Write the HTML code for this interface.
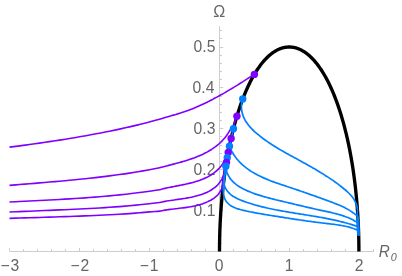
<!DOCTYPE html><html><head><meta charset="utf-8"><style>html,body{margin:0;padding:0;background:#fff}svg{display:block;will-change:transform}text{font-family:"Liberation Sans",sans-serif;fill:#666666}</style></head><body>
<svg width="402" height="276" viewBox="0 0 402 276">
<rect width="402" height="276" fill="#fff"/>
<path d="M9.50,251.50 H374.00 M219.50,252.00 V26.00 M9.50,251.00 v-3.20 M23.50,251.00 v-2.00 M37.50,251.00 v-2.00 M51.50,251.00 v-2.00 M65.50,251.00 v-2.00 M79.50,251.00 v-3.20 M93.50,251.00 v-2.00 M107.50,251.00 v-2.00 M121.50,251.00 v-2.00 M135.50,251.00 v-2.00 M149.50,251.00 v-3.20 M163.50,251.00 v-2.00 M177.50,251.00 v-2.00 M191.50,251.00 v-2.00 M205.50,251.00 v-2.00 M233.50,251.00 v-2.00 M247.50,251.00 v-2.00 M261.50,251.00 v-2.00 M275.50,251.00 v-2.00 M289.50,251.00 v-3.20 M303.50,251.00 v-2.00 M317.50,251.00 v-2.00 M331.50,251.00 v-2.00 M345.50,251.00 v-2.00 M359.50,251.00 v-3.20 M373.50,251.00 v-2.00 M220.00,243.50 h2.00 M220.00,235.50 h2.00 M220.00,226.50 h2.00 M220.00,218.50 h2.00 M220.00,210.50 h3.20 M220.00,202.50 h2.00 M220.00,194.50 h2.00 M220.00,186.50 h2.00 M220.00,177.50 h2.00 M220.00,169.50 h3.20 M220.00,161.50 h2.00 M220.00,153.50 h2.00 M220.00,145.50 h2.00 M220.00,136.50 h2.00 M220.00,128.50 h3.20 M220.00,120.50 h2.00 M220.00,112.50 h2.00 M220.00,104.50 h2.00 M220.00,96.50 h2.00 M220.00,87.50 h3.20 M220.00,79.50 h2.00 M220.00,71.50 h2.00 M220.00,63.50 h2.00 M220.00,55.50 h2.00 M220.00,47.50 h3.20 M220.00,38.50 h2.00 M220.00,30.50 h2.00" stroke="#cdcdcd" stroke-width="1" fill="none"/>
<text x="9.90" y="270.8" font-size="15.7" text-anchor="middle">−<tspan dx="0.8">3</tspan></text>
<text x="79.90" y="270.8" font-size="15.7" text-anchor="middle">−<tspan dx="0.8">2</tspan></text>
<text x="149.10" y="270.8" font-size="15.7" text-anchor="middle">−<tspan dx="0.8">1</tspan></text>
<text x="219.00" y="270.8" font-size="15.7" text-anchor="middle">0</text>
<text x="289.00" y="270.8" font-size="15.7" text-anchor="middle">1</text>
<text x="359.00" y="270.8" font-size="15.7" text-anchor="middle">2</text>
<text x="215.40" y="216.05" font-size="15.7" text-anchor="end">0.1</text>
<text x="215.40" y="175.15" font-size="15.7" text-anchor="end">0.2</text>
<text x="215.40" y="134.25" font-size="15.7" text-anchor="end">0.3</text>
<text x="214.40" y="93.35" font-size="15.7" text-anchor="end">0.4</text>
<text x="215.40" y="52.45" font-size="15.7" text-anchor="end">0.5</text>
<text transform="translate(219.3,16.75) scale(0.93,1)" x="0" y="0" font-size="17.3" text-anchor="middle">Ω</text>
<text transform="translate(378.8,256.8) scale(0.93,1)" font-size="16.4" font-style="italic">R<tspan font-size="11.6" dy="4" dx="1.0">0</tspan></text>
<path d="M219.50,251.50 L219.51,248.29 L219.53,245.08 L219.58,241.87 L219.64,238.66 L219.71,235.46 L219.81,232.25 L219.92,229.06 L220.05,225.87 L220.20,222.69 L220.36,219.51 L220.54,216.34 L220.73,213.18 L220.95,210.03 L221.18,206.89 L221.43,203.76 L221.69,200.64 L221.97,197.54 L222.27,194.45 L222.58,191.37 L222.91,188.31 L223.26,185.26 L223.62,182.23 L224.00,179.21 L224.39,176.22 L224.81,173.24 L225.23,170.28 L225.68,167.35 L226.13,164.43 L226.61,161.53 L227.10,158.66 L227.60,155.81 L228.12,152.98 L228.66,150.18 L229.21,147.40 L229.77,144.65 L230.35,141.92 L230.94,139.22 L231.55,136.55 L232.17,133.91 L232.81,131.30 L233.46,128.71 L234.13,126.16 L234.80,123.64 L235.50,121.15 L236.20,118.69 L236.92,116.26 L237.65,113.87 L238.39,111.51 L239.15,109.19 L239.91,106.90 L240.69,104.64 L241.49,102.43 L242.29,100.25 L243.11,98.10 L243.93,96.00 L244.77,93.93 L245.62,91.90 L246.48,89.91 L247.35,87.96 L248.23,86.06 L249.12,84.19 L250.02,82.36 L250.93,80.58 L251.85,78.83 L252.78,77.14 L253.72,75.48 L254.67,73.86 L255.62,72.30 L256.59,70.77 L257.56,69.29 L258.54,67.85 L259.52,66.46 L260.52,65.12 L261.52,63.82 L262.53,62.57 L263.54,61.36 L264.56,60.20 L265.59,59.09 L266.62,58.03 L267.66,57.01 L268.71,56.04 L269.75,55.12 L270.81,54.25 L271.87,53.42 L272.93,52.65 L274.00,51.93 L275.07,51.25 L276.14,50.62 L277.22,50.05 L278.30,49.52 L279.38,49.04 L280.46,48.61 L281.55,48.23 L282.64,47.91 L283.73,47.63 L284.82,47.40 L285.92,47.23 L287.01,47.10 L288.11,47.03 L289.20,47.00 L290.29,47.03 L291.39,47.10 L292.48,47.23 L293.58,47.40 L294.67,47.63 L295.76,47.91 L296.85,48.23 L297.94,48.61 L299.02,49.04 L300.10,49.52 L301.18,50.05 L302.26,50.62 L303.33,51.25 L304.40,51.93 L305.47,52.65 L306.53,53.42 L307.59,54.25 L308.65,55.12 L309.69,56.04 L310.74,57.01 L311.78,58.03 L312.81,59.09 L313.84,60.20 L314.86,61.36 L315.87,62.57 L316.88,63.82 L317.88,65.12 L318.88,66.46 L319.86,67.85 L320.84,69.29 L321.81,70.77 L322.78,72.30 L323.73,73.86 L324.68,75.48 L325.62,77.14 L326.55,78.83 L327.47,80.58 L328.38,82.36 L329.28,84.19 L330.17,86.06 L331.05,87.96 L331.92,89.91 L332.78,91.90 L333.63,93.93 L334.47,96.00 L335.29,98.10 L336.11,100.25 L336.91,102.43 L337.71,104.64 L338.49,106.90 L339.25,109.19 L340.01,111.51 L340.75,113.87 L341.48,116.26 L342.20,118.69 L342.90,121.15 L343.60,123.64 L344.27,126.16 L344.94,128.71 L345.59,131.30 L346.23,133.91 L346.85,136.55 L347.46,139.22 L348.05,141.92 L348.63,144.65 L349.19,147.40 L349.74,150.18 L350.28,152.98 L350.80,155.81 L351.30,158.66 L351.79,161.53 L352.27,164.43 L352.72,167.35 L353.17,170.28 L353.59,173.24 L354.01,176.22 L354.40,179.21 L354.78,182.23 L355.14,185.26 L355.49,188.31 L355.82,191.37 L356.13,194.45 L356.43,197.54 L356.71,200.64 L356.97,203.76 L357.22,206.89 L357.45,210.03 L357.67,213.18 L357.86,216.34 L358.04,219.51 L358.20,222.69 L358.35,225.87 L358.48,229.06 L358.59,232.25 L358.69,235.46 L358.76,238.66 L358.82,241.87 L358.87,245.08 L358.89,248.29 L358.90,251.50" stroke="#000" stroke-width="3.35" fill="none" stroke-linejoin="round"/>
<path d="M9.50,147.16 C11.17,146.94 16.17,146.31 19.50,145.87 C22.83,145.43 26.17,144.98 29.50,144.52 C32.83,144.06 36.17,143.59 39.50,143.12 C42.83,142.64 46.17,142.15 49.50,141.65 C52.83,141.15 56.17,140.64 59.50,140.12 C62.83,139.59 66.17,139.06 69.50,138.51 C72.83,137.96 76.17,137.40 79.50,136.82 C82.83,136.24 86.17,135.65 89.50,135.04 C92.83,134.44 96.17,133.81 99.50,133.17 C102.83,132.53 106.17,131.87 109.50,131.19 C112.83,130.51 116.17,129.82 119.50,129.10 C122.83,128.37 126.17,127.63 129.50,126.87 C132.83,126.10 136.17,125.31 139.50,124.49 C142.83,123.68 146.17,122.83 149.50,121.96 C152.83,121.08 156.18,120.20 159.50,119.24 C162.82,118.27 167.37,116.78 169.42,116.17 C171.47,115.56 171.02,115.78 171.81,115.57 C172.61,115.37 173.40,115.15 174.19,114.94 C174.98,114.72 175.76,114.50 176.55,114.27 C177.33,114.04 178.12,113.80 178.90,113.56 C179.67,113.32 180.45,113.07 181.23,112.82 C182.00,112.57 182.77,112.31 183.54,112.05 C184.31,111.79 185.08,111.52 185.85,111.25 C186.61,110.97 187.38,110.69 188.14,110.41 C188.90,110.13 189.66,109.84 190.41,109.54 C191.17,109.25 191.93,108.95 192.68,108.65 C193.43,108.35 194.18,108.04 194.93,107.73 C195.68,107.41 196.42,107.10 197.17,106.78 C197.91,106.45 198.65,106.13 199.39,105.80 C200.13,105.47 200.87,105.13 201.61,104.80 C202.35,104.46 203.08,104.12 203.81,103.77 C204.55,103.42 205.28,103.07 206.01,102.72 C206.74,102.37 207.46,102.01 208.19,101.65 C208.92,101.29 209.64,100.92 210.36,100.55 C211.09,100.18 211.81,99.81 212.53,99.44 C213.25,99.06 213.96,98.69 214.68,98.30 C215.40,97.92 216.11,97.54 216.82,97.15 C217.54,96.76 218.25,96.37 218.96,95.98 C219.67,95.59 220.38,95.19 221.09,94.79 C221.80,94.40 222.50,93.99 223.21,93.59 C223.91,93.19 224.62,92.78 225.32,92.37 C226.02,91.96 226.73,91.55 227.43,91.14 C228.13,90.73 228.83,90.31 229.52,89.90 C230.22,89.48 230.92,89.06 231.62,88.64 C232.31,88.22 233.01,87.80 233.70,87.37 C234.40,86.95 235.09,86.52 235.78,86.10 C236.47,85.67 237.16,85.24 237.85,84.81 C238.55,84.38 239.23,83.95 239.92,83.52 C240.61,83.08 241.30,82.65 241.99,82.22 C242.68,81.78 243.36,81.34 244.05,80.91 C244.73,80.47 245.42,80.03 246.10,79.60 C246.79,79.16 247.47,78.72 248.16,78.28 C248.84,77.84 249.52,77.40 250.20,76.96 C250.89,76.52 251.57,76.08 252.25,75.64 C252.93,75.20 253.95,74.53 254.29,74.31" stroke="#8000ff" stroke-width="1.6" fill="none" stroke-linecap="butt"/>
<path d="M9.50,185.35 C11.17,185.22 16.17,184.82 19.50,184.55 C22.83,184.29 26.17,184.02 29.50,183.75 C32.83,183.47 36.17,183.20 39.50,182.92 C42.83,182.64 46.17,182.36 49.50,182.07 C52.83,181.78 56.17,181.48 59.50,181.18 C62.83,180.88 66.17,180.57 69.50,180.25 C72.83,179.94 76.17,179.61 79.50,179.27 C82.83,178.94 86.17,178.59 89.50,178.23 C92.83,177.87 96.17,177.50 99.50,177.11 C102.83,176.72 106.17,176.32 109.50,175.89 C112.83,175.47 116.17,175.03 119.50,174.57 C122.83,174.11 126.17,173.63 129.50,173.11 C132.83,172.60 136.17,172.07 139.50,171.50 C142.83,170.92 146.14,170.32 149.50,169.68 C152.86,169.05 157.63,168.12 159.65,167.70 C161.66,167.29 160.94,167.36 161.59,167.19 C162.24,167.02 162.90,166.85 163.56,166.68 C164.22,166.51 164.88,166.34 165.54,166.17 C166.21,166.00 166.88,165.83 167.55,165.66 C168.22,165.49 168.89,165.32 169.56,165.14 C170.24,164.97 170.91,164.80 171.59,164.62 C172.27,164.45 172.95,164.27 173.63,164.10 C174.31,163.92 174.99,163.74 175.68,163.56 C176.36,163.38 177.04,163.19 177.73,163.01 C178.41,162.82 179.10,162.63 179.78,162.44 C180.46,162.25 181.15,162.06 181.83,161.86 C182.52,161.66 183.20,161.46 183.89,161.26 C184.57,161.06 185.25,160.85 185.93,160.64 C186.61,160.43 187.30,160.22 187.97,160.00 C188.65,159.78 189.33,159.56 190.01,159.33 C190.68,159.10 191.35,158.87 192.03,158.63 C192.70,158.40 193.37,158.16 194.03,157.91 C194.70,157.66 195.36,157.41 196.02,157.15 C196.68,156.90 197.34,156.63 197.99,156.36 C198.65,156.09 199.30,155.82 199.95,155.54 C200.59,155.26 201.23,154.97 201.87,154.68 C202.51,154.38 203.15,154.08 203.77,153.77 C204.40,153.47 205.03,153.15 205.65,152.83 C206.27,152.51 206.88,152.18 207.49,151.84 C208.10,151.50 208.71,151.16 209.30,150.80 C209.90,150.45 210.49,150.09 211.08,149.72 C211.67,149.35 212.25,148.97 212.82,148.59 C213.39,148.20 213.96,147.80 214.52,147.40 C215.08,147.00 215.63,146.58 216.18,146.16 C216.72,145.73 217.26,145.30 217.79,144.86 C218.32,144.42 218.84,143.96 219.35,143.50 C219.87,143.04 220.37,142.57 220.87,142.08 C221.37,141.60 221.86,141.10 222.34,140.60 C222.82,140.09 223.29,139.58 223.75,139.05 C224.21,138.52 224.66,137.99 225.10,137.44 C225.55,136.89 225.98,136.32 226.40,135.75 C226.82,135.18 227.23,134.59 227.64,133.99 C228.04,133.40 228.43,132.78 228.81,132.16 C229.19,131.54 229.22,131.11 229.92,130.25 C230.61,129.39 232.28,128.14 233.01,127.00 C233.73,125.86 233.84,124.61 234.27,123.41 C234.69,122.22 235.13,121.02 235.57,119.82 C236.01,118.63 236.70,116.83 236.93,116.24" stroke="#8000ff" stroke-width="1.6" fill="none" stroke-linecap="butt"/>
<path d="M9.50,202.03 C11.17,201.95 16.17,201.71 19.50,201.55 C22.83,201.39 26.17,201.23 29.50,201.06 C32.83,200.90 36.17,200.73 39.50,200.55 C42.83,200.38 46.17,200.21 49.50,200.02 C52.83,199.84 56.17,199.66 59.50,199.46 C62.83,199.27 66.17,199.07 69.50,198.86 C72.83,198.66 76.17,198.44 79.50,198.21 C82.83,197.99 86.17,197.76 89.50,197.51 C92.83,197.26 96.17,197.00 99.50,196.73 C102.83,196.46 106.17,196.17 109.50,195.87 C112.83,195.56 116.17,195.24 119.50,194.90 C122.83,194.56 126.17,194.20 129.50,193.81 C132.83,193.42 136.17,193.00 139.50,192.57 C142.83,192.15 146.14,191.72 149.50,191.25 C152.86,190.77 157.69,190.06 159.67,189.73 C161.65,189.40 160.80,189.41 161.38,189.26 C161.95,189.11 162.53,188.96 163.12,188.82 C163.70,188.67 164.29,188.53 164.89,188.39 C165.48,188.25 166.08,188.12 166.68,187.98 C167.28,187.85 167.88,187.72 168.49,187.59 C169.10,187.46 169.71,187.33 170.32,187.21 C170.94,187.08 171.55,186.96 172.17,186.84 C172.79,186.71 173.41,186.59 174.03,186.47 C174.66,186.35 175.28,186.22 175.91,186.10 C176.53,185.98 177.16,185.86 177.79,185.74 C178.42,185.61 179.05,185.49 179.68,185.37 C180.31,185.24 180.94,185.12 181.57,184.99 C182.20,184.86 182.83,184.74 183.47,184.60 C184.10,184.47 184.73,184.34 185.36,184.20 C185.99,184.07 186.62,183.93 187.24,183.79 C187.87,183.65 188.50,183.50 189.13,183.35 C189.75,183.20 190.38,183.05 191.00,182.89 C191.62,182.74 192.24,182.58 192.86,182.41 C193.47,182.24 194.09,182.07 194.70,181.90 C195.31,181.72 195.92,181.54 196.53,181.35 C197.13,181.16 197.74,180.97 198.34,180.77 C198.94,180.57 199.53,180.37 200.12,180.15 C200.71,179.94 201.30,179.72 201.88,179.49 C202.46,179.27 203.04,179.03 203.62,178.79 C204.19,178.55 204.76,178.30 205.32,178.04 C205.88,177.78 206.44,177.51 206.99,177.24 C207.54,176.96 208.08,176.68 208.62,176.38 C209.16,176.09 209.69,175.78 210.22,175.47 C210.74,175.16 211.26,174.83 211.77,174.50 C212.29,174.16 212.79,173.82 213.29,173.46 C213.78,173.11 214.27,172.74 214.75,172.36 C215.23,171.98 215.71,171.59 216.17,171.19 C216.64,170.79 217.09,170.38 217.54,169.95 C217.99,169.52 218.42,169.08 218.85,168.63 C219.28,168.18 219.70,167.71 220.11,167.23 C220.52,166.75 220.92,166.26 221.31,165.75 C221.70,165.25 222.08,164.73 222.45,164.19 C222.82,163.66 223.17,163.11 223.52,162.54 C223.87,161.97 224.00,161.89 224.53,160.80 C225.05,159.71 226.08,157.77 226.67,156.00 C227.26,154.23 227.58,152.10 228.06,150.15 C228.54,148.20 229.03,146.25 229.54,144.31 C230.05,142.36 230.85,139.43 231.12,138.46" stroke="#8000ff" stroke-width="1.6" fill="none" stroke-linecap="butt"/>
<path d="M9.50,212.03 C11.17,211.96 16.17,211.74 19.50,211.60 C22.83,211.45 26.17,211.31 29.50,211.18 C32.83,211.04 36.17,210.90 39.50,210.76 C42.83,210.62 46.17,210.48 49.50,210.34 C52.83,210.20 56.17,210.06 59.50,209.92 C62.83,209.77 66.17,209.63 69.50,209.48 C72.83,209.32 76.17,209.17 79.50,209.00 C82.83,208.84 86.17,208.67 89.50,208.50 C92.83,208.32 96.17,208.13 99.50,207.93 C102.83,207.73 106.17,207.53 109.50,207.30 C112.83,207.08 116.17,206.84 119.50,206.59 C122.83,206.33 126.17,206.06 129.50,205.77 C132.83,205.47 136.17,205.16 139.50,204.81 C142.83,204.46 146.14,204.06 149.50,203.68 C152.86,203.30 157.69,202.79 159.67,202.53 C161.66,202.27 160.82,202.25 161.40,202.13 C161.98,202.00 162.56,201.87 163.16,201.75 C163.75,201.63 164.34,201.52 164.94,201.41 C165.54,201.30 166.14,201.19 166.75,201.08 C167.36,200.98 167.97,200.88 168.59,200.78 C169.20,200.68 169.82,200.58 170.44,200.49 C171.06,200.39 171.69,200.30 172.31,200.21 C172.94,200.11 173.57,200.02 174.20,199.93 C174.83,199.84 175.47,199.75 176.10,199.66 C176.74,199.57 177.37,199.48 178.01,199.39 C178.65,199.30 179.29,199.21 179.93,199.12 C180.57,199.03 181.21,198.93 181.85,198.84 C182.49,198.74 183.13,198.64 183.77,198.54 C184.41,198.44 185.05,198.34 185.69,198.23 C186.33,198.13 186.97,198.02 187.60,197.90 C188.24,197.79 188.88,197.68 189.51,197.55 C190.15,197.43 190.78,197.31 191.41,197.18 C192.04,197.05 192.67,196.91 193.30,196.77 C193.92,196.63 194.55,196.48 195.17,196.33 C195.79,196.17 196.41,196.01 197.02,195.85 C197.64,195.68 198.25,195.51 198.85,195.33 C199.46,195.15 200.07,194.96 200.66,194.76 C201.26,194.57 201.86,194.36 202.45,194.15 C203.04,193.93 203.62,193.71 204.20,193.48 C204.78,193.25 205.35,193.01 205.92,192.76 C206.49,192.51 207.05,192.25 207.61,191.98 C208.17,191.70 208.72,191.42 209.26,191.13 C209.80,190.84 210.34,190.53 210.87,190.21 C211.40,189.90 211.92,189.57 212.43,189.23 C212.95,188.89 213.45,188.53 213.94,188.17 C214.44,187.80 214.92,187.42 215.39,187.03 C215.86,186.63 216.32,186.22 216.76,185.80 C217.21,185.38 217.64,184.94 218.06,184.48 C218.48,184.03 218.88,183.56 219.27,183.07 C219.65,182.59 220.02,182.09 220.38,181.57 C220.73,181.05 221.06,180.51 221.38,179.96 C221.70,179.40 221.99,178.83 222.27,178.24 C222.55,177.65 222.81,177.04 223.04,176.41 C223.27,175.78 223.46,175.53 223.68,174.47 C223.90,173.40 224.06,171.72 224.37,170.00 C224.69,168.28 225.16,166.11 225.58,164.17 C225.99,162.22 226.41,160.28 226.85,158.33 C227.29,156.39 227.99,153.47 228.21,152.50" stroke="#8000ff" stroke-width="1.6" fill="none" stroke-linecap="butt"/>
<path d="M9.50,218.33 C11.17,218.28 16.17,218.13 19.50,218.03 C22.83,217.93 26.17,217.83 29.50,217.73 C32.83,217.64 36.17,217.54 39.50,217.44 C42.83,217.34 46.17,217.24 49.50,217.14 C52.83,217.04 56.17,216.93 59.50,216.82 C62.83,216.72 66.17,216.61 69.50,216.49 C72.83,216.37 76.17,216.25 79.50,216.12 C82.83,215.99 86.17,215.86 89.50,215.71 C92.83,215.57 96.17,215.40 99.50,215.25 C102.83,215.09 106.17,214.95 109.50,214.78 C112.83,214.61 116.17,214.43 119.50,214.23 C122.83,214.03 126.17,213.82 129.50,213.58 C132.83,213.35 136.17,213.09 139.50,212.81 C142.83,212.52 146.14,212.16 149.50,211.88 C152.86,211.59 157.66,211.30 159.64,211.11 C161.61,210.93 160.76,210.88 161.33,210.77 C161.90,210.66 162.48,210.55 163.06,210.45 C163.64,210.35 164.22,210.25 164.80,210.16 C165.39,210.06 165.98,209.97 166.57,209.89 C167.17,209.80 167.76,209.72 168.36,209.63 C168.96,209.55 169.56,209.47 170.17,209.40 C170.77,209.32 171.38,209.24 171.98,209.17 C172.59,209.10 173.20,209.02 173.82,208.95 C174.43,208.88 175.04,208.81 175.66,208.74 C176.27,208.66 176.89,208.59 177.51,208.52 C178.12,208.45 178.74,208.38 179.36,208.30 C179.98,208.23 180.60,208.16 181.22,208.08 C181.84,208.01 182.46,207.93 183.08,207.85 C183.70,207.77 184.32,207.69 184.94,207.60 C185.56,207.52 186.17,207.43 186.79,207.34 C187.41,207.25 188.03,207.16 188.64,207.06 C189.26,206.96 189.87,206.86 190.48,206.75 C191.10,206.65 191.71,206.53 192.32,206.42 C192.92,206.30 193.53,206.18 194.13,206.05 C194.74,205.93 195.34,205.80 195.94,205.66 C196.54,205.52 197.13,205.37 197.73,205.22 C198.32,205.07 198.91,204.91 199.50,204.74 C200.08,204.58 200.67,204.41 201.24,204.22 C201.82,204.04 202.40,203.85 202.97,203.65 C203.54,203.46 204.11,203.25 204.67,203.03 C205.23,202.82 205.79,202.59 206.34,202.36 C206.89,202.12 207.44,201.88 207.98,201.63 C208.52,201.37 209.06,201.11 209.59,200.83 C210.12,200.55 210.64,200.27 211.16,199.97 C211.68,199.67 212.19,199.36 212.69,199.04 C213.19,198.71 213.68,198.38 214.16,198.02 C214.64,197.67 215.11,197.31 215.56,196.93 C216.02,196.55 216.46,196.15 216.89,195.74 C217.32,195.32 217.73,194.89 218.13,194.45 C218.52,194.00 218.90,193.53 219.26,193.05 C219.62,192.56 219.96,192.06 220.28,191.54 C220.60,191.01 220.90,190.47 221.17,189.90 C221.45,189.34 221.70,188.75 221.93,188.14 C222.16,187.53 222.40,187.35 222.54,186.25 C222.69,185.14 222.58,183.35 222.81,181.50 C223.04,179.65 223.55,177.25 223.94,175.12 C224.34,172.99 224.74,170.87 225.16,168.74 C225.58,166.61 226.25,163.42 226.47,162.36" stroke="#8000ff" stroke-width="1.6" fill="none" stroke-linecap="butt"/>
<path d="M242.73,99.07 C242.54,99.87 241.81,102.53 241.60,103.85 C241.39,105.16 241.46,105.96 241.47,106.97 C241.48,107.99 241.55,108.97 241.67,109.93 C241.78,110.89 241.95,111.82 242.16,112.73 C242.37,113.65 242.63,114.53 242.93,115.39 C243.22,116.26 243.56,117.10 243.94,117.92 C244.31,118.74 244.72,119.54 245.17,120.32 C245.61,121.10 246.09,121.86 246.60,122.60 C247.10,123.34 247.64,124.07 248.19,124.78 C248.75,125.49 249.34,126.18 249.94,126.86 C250.54,127.54 251.16,128.21 251.80,128.86 C252.44,129.52 253.10,130.16 253.76,130.79 C254.43,131.42 255.11,132.04 255.79,132.65 C256.48,133.26 257.17,133.86 257.88,134.46 C258.58,135.05 259.29,135.63 260.01,136.21 C260.73,136.78 261.46,137.35 262.19,137.91 C262.93,138.47 263.67,139.02 264.42,139.56 C265.17,140.11 265.92,140.64 266.68,141.17 C267.44,141.70 268.21,142.23 268.98,142.74 C269.76,143.26 270.53,143.77 271.32,144.28 C272.10,144.78 272.89,145.28 273.68,145.78 C274.47,146.28 275.27,146.77 276.07,147.25 C276.87,147.74 277.67,148.22 278.48,148.70 C279.29,149.17 280.10,149.65 280.91,150.12 C281.73,150.59 282.54,151.05 283.36,151.52 C284.18,151.98 285.00,152.44 285.82,152.90 C286.64,153.36 287.46,153.82 288.29,154.27 C289.11,154.73 289.94,155.18 290.76,155.64 C291.59,156.09 292.41,156.54 293.24,156.99 C294.06,157.44 294.89,157.89 295.71,158.34 C296.54,158.79 297.36,159.24 298.19,159.70 C299.01,160.15 299.83,160.60 300.65,161.05 C301.47,161.50 302.29,161.95 303.11,162.41 C303.93,162.86 304.75,163.31 305.57,163.77 C306.38,164.22 307.20,164.68 308.01,165.14 C308.83,165.60 309.64,166.06 310.45,166.52 C311.26,166.98 312.07,167.44 312.87,167.91 C313.68,168.38 314.49,168.84 315.29,169.32 C316.09,169.79 316.89,170.26 317.69,170.74 C318.49,171.21 319.29,171.69 320.08,172.18 C320.87,172.66 321.66,173.14 322.45,173.63 C323.24,174.12 324.03,174.62 324.81,175.11 C325.59,175.61 326.38,176.11 327.15,176.62 C327.93,177.12 328.71,177.63 329.48,178.15 C330.25,178.66 331.02,179.18 331.78,179.70 C332.55,180.23 333.31,180.75 334.07,181.29 C334.82,181.82 335.58,182.36 336.33,182.91 C337.08,183.45 337.83,184.00 338.57,184.56 C339.32,185.11 340.06,185.67 340.79,186.24 C341.53,186.81 342.26,187.38 342.98,187.97 C343.71,188.55 344.43,189.14 345.14,189.74 C345.84,190.34 346.54,190.95 347.22,191.57 C347.89,192.20 348.56,192.83 349.20,193.49 C349.83,194.14 350.45,194.81 351.04,195.50 C351.63,196.18 352.19,196.89 352.72,197.62 C353.25,198.34 353.75,199.09 354.21,199.86 C354.66,200.64 355.09,201.43 355.47,202.25 C355.84,203.08 356.18,203.92 356.47,204.80 C356.75,205.68 357.00,206.59 357.18,207.53 C357.37,208.47 357.55,209.37 357.58,210.45 C357.61,211.53 357.32,212.20 357.37,214.00 C357.42,215.80 357.71,218.82 357.87,221.23 C358.02,223.64 358.15,226.06 358.27,228.47 C358.39,230.88 358.54,234.49 358.59,235.70" stroke="#0080ff" stroke-width="1.7" fill="none"/>
<path d="M233.44,128.80 C233.31,129.37 232.90,131.09 232.65,132.24 C232.40,133.39 232.18,134.53 231.96,135.68 C231.74,136.83 231.53,137.97 231.34,139.12 C231.14,140.27 230.96,141.41 230.79,142.56 C230.61,143.71 230.21,144.72 230.29,146.00 C230.37,147.28 230.88,149.16 231.25,150.24 C231.61,151.33 232.06,151.77 232.49,152.51 C232.92,153.24 233.36,153.96 233.82,154.66 C234.28,155.36 234.75,156.05 235.24,156.72 C235.72,157.39 236.22,158.04 236.73,158.68 C237.25,159.32 237.77,159.94 238.31,160.55 C238.84,161.15 239.39,161.75 239.95,162.33 C240.51,162.90 241.09,163.47 241.67,164.02 C242.25,164.57 242.85,165.11 243.45,165.63 C244.06,166.16 244.67,166.67 245.30,167.17 C245.92,167.67 246.56,168.16 247.20,168.63 C247.85,169.11 248.50,169.57 249.17,170.02 C249.83,170.48 250.50,170.92 251.18,171.35 C251.86,171.78 252.55,172.20 253.24,172.62 C253.94,173.03 254.64,173.43 255.35,173.82 C256.06,174.22 256.78,174.60 257.50,174.97 C258.23,175.35 258.96,175.72 259.69,176.08 C260.43,176.44 261.17,176.79 261.92,177.13 C262.66,177.47 263.42,177.81 264.17,178.14 C264.93,178.47 265.69,178.80 266.46,179.11 C267.23,179.43 268.00,179.74 268.77,180.05 C269.54,180.36 270.32,180.66 271.10,180.96 C271.88,181.25 272.66,181.54 273.45,181.83 C274.23,182.12 275.02,182.40 275.81,182.69 C276.60,182.97 277.39,183.24 278.19,183.52 C278.98,183.79 279.77,184.06 280.57,184.33 C281.36,184.60 282.16,184.87 282.95,185.14 C283.75,185.40 284.55,185.67 285.34,185.93 C286.13,186.20 286.93,186.46 287.72,186.72 C288.52,186.98 289.31,187.25 290.10,187.51 C290.89,187.77 291.68,188.04 292.47,188.30 C293.25,188.56 294.04,188.83 294.83,189.09 C295.61,189.36 296.39,189.62 297.18,189.89 C297.96,190.15 298.74,190.42 299.52,190.69 C300.30,190.95 301.08,191.22 301.86,191.49 C302.64,191.75 303.41,192.02 304.19,192.29 C304.97,192.56 305.74,192.83 306.52,193.10 C307.29,193.37 308.07,193.64 308.84,193.91 C309.61,194.18 310.39,194.45 311.16,194.73 C311.93,195.00 312.71,195.27 313.48,195.55 C314.25,195.82 315.02,196.10 315.80,196.37 C316.57,196.65 317.34,196.93 318.11,197.20 C318.88,197.48 319.66,197.76 320.43,198.04 C321.20,198.32 321.97,198.60 322.75,198.88 C323.52,199.16 324.29,199.44 325.06,199.73 C325.84,200.01 326.61,200.29 327.39,200.58 C328.16,200.86 328.94,201.15 329.71,201.44 C330.49,201.73 331.26,202.02 332.04,202.31 C332.81,202.60 333.58,202.90 334.35,203.20 C335.12,203.50 335.89,203.81 336.66,204.12 C337.42,204.43 338.19,204.75 338.94,205.07 C339.70,205.40 340.46,205.73 341.21,206.07 C341.96,206.41 342.70,206.75 343.44,207.11 C344.18,207.47 344.91,207.83 345.64,208.21 C346.36,208.59 347.08,208.98 347.80,209.38 C348.51,209.78 349.21,210.19 349.91,210.61 C350.60,211.04 351.29,211.47 351.96,211.93 C352.64,212.38 353.31,212.84 353.97,213.33 C354.62,213.81 355.27,214.31 355.90,214.82 C356.54,215.34 357.39,215.39 357.77,216.42 C358.15,217.45 358.13,220.24 358.20,221.00" stroke="#0080ff" stroke-width="1.7" fill="none"/>
<path d="M229.46,146.17 C229.35,146.72 229.01,148.37 228.80,149.47 C228.58,150.57 228.38,151.68 228.18,152.78 C227.99,153.88 227.80,154.98 227.63,156.08 C227.45,157.19 227.29,158.29 227.15,159.39 C227.00,160.49 226.87,161.59 226.76,162.69 C226.65,163.80 226.49,164.53 226.48,166.00 C226.48,167.47 226.53,170.18 226.72,171.50 C226.91,172.82 227.28,173.13 227.61,173.90 C227.95,174.67 228.31,175.41 228.71,176.12 C229.11,176.83 229.54,177.51 229.99,178.17 C230.45,178.83 230.94,179.46 231.45,180.07 C231.96,180.68 232.50,181.26 233.07,181.83 C233.63,182.39 234.22,182.92 234.82,183.44 C235.43,183.96 236.06,184.46 236.70,184.93 C237.35,185.41 238.01,185.87 238.69,186.31 C239.37,186.75 240.07,187.18 240.78,187.58 C241.48,187.99 242.21,188.38 242.94,188.76 C243.67,189.14 244.42,189.50 245.16,189.85 C245.91,190.21 246.67,190.54 247.44,190.87 C248.20,191.20 248.97,191.52 249.74,191.83 C250.51,192.14 251.28,192.44 252.06,192.73 C252.83,193.02 253.61,193.31 254.38,193.58 C255.16,193.86 255.94,194.13 256.72,194.39 C257.49,194.65 258.28,194.91 259.06,195.16 C259.84,195.41 260.62,195.65 261.40,195.89 C262.19,196.13 262.97,196.36 263.76,196.59 C264.54,196.82 265.33,197.04 266.11,197.26 C266.90,197.48 267.69,197.69 268.48,197.90 C269.26,198.11 270.05,198.32 270.84,198.52 C271.63,198.73 272.42,198.93 273.21,199.13 C274.00,199.32 274.79,199.52 275.58,199.71 C276.37,199.91 277.17,200.10 277.96,200.29 C278.75,200.48 279.54,200.67 280.33,200.85 C281.13,201.04 281.92,201.23 282.71,201.42 C283.50,201.60 284.30,201.79 285.09,201.98 C285.88,202.16 286.67,202.35 287.47,202.54 C288.26,202.73 289.05,202.91 289.84,203.10 C290.64,203.29 291.43,203.48 292.22,203.67 C293.01,203.86 293.81,204.05 294.60,204.23 C295.39,204.42 296.19,204.61 296.98,204.80 C297.78,204.99 298.57,205.18 299.37,205.37 C300.16,205.55 300.96,205.74 301.75,205.93 C302.55,206.12 303.34,206.31 304.14,206.49 C304.94,206.68 305.74,206.87 306.53,207.05 C307.33,207.24 308.13,207.42 308.93,207.61 C309.73,207.79 310.53,207.98 311.33,208.16 C312.13,208.35 312.94,208.53 313.74,208.71 C314.54,208.89 315.35,209.08 316.15,209.26 C316.96,209.44 317.76,209.62 318.57,209.79 C319.38,209.97 320.19,210.15 321.00,210.33 C321.80,210.50 322.62,210.68 323.43,210.85 C324.24,211.03 325.05,211.20 325.86,211.38 C326.68,211.55 327.49,211.73 328.30,211.91 C329.11,212.08 329.92,212.26 330.73,212.45 C331.54,212.63 332.35,212.82 333.16,213.01 C333.96,213.21 334.77,213.40 335.57,213.61 C336.37,213.81 337.17,214.02 337.96,214.24 C338.75,214.46 339.54,214.69 340.33,214.92 C341.12,215.16 341.90,215.40 342.68,215.65 C343.45,215.91 344.22,216.17 344.99,216.45 C345.75,216.72 346.51,217.01 347.27,217.31 C348.02,217.61 348.77,217.92 349.50,218.25 C350.24,218.58 350.98,218.92 351.70,219.28 C352.42,219.64 353.14,220.01 353.84,220.40 C354.55,220.79 355.25,221.19 355.94,221.62 C356.62,222.05 357.58,222.22 357.97,222.95 C358.36,223.68 358.25,225.49 358.30,226.00" stroke="#0080ff" stroke-width="1.7" fill="none"/>
<path d="M227.24,157.81 C227.14,158.43 226.82,160.28 226.61,161.51 C226.41,162.74 226.21,163.98 226.03,165.21 C225.85,166.44 225.67,167.67 225.51,168.91 C225.35,170.14 225.20,171.37 225.07,172.60 C224.94,173.84 224.83,175.07 224.73,176.30 C224.63,177.53 224.62,178.72 224.50,180.00 C224.38,181.28 223.95,182.91 224.00,183.99 C224.05,185.08 224.49,185.72 224.80,186.52 C225.11,187.32 225.47,188.08 225.86,188.80 C226.26,189.52 226.70,190.19 227.17,190.84 C227.65,191.48 228.16,192.09 228.70,192.66 C229.24,193.24 229.82,193.78 230.42,194.30 C231.02,194.81 231.65,195.30 232.30,195.76 C232.96,196.22 233.64,196.65 234.33,197.06 C235.03,197.48 235.75,197.86 236.48,198.24 C237.21,198.61 237.96,198.96 238.72,199.30 C239.47,199.63 240.24,199.95 241.02,200.26 C241.79,200.57 242.58,200.86 243.37,201.15 C244.15,201.44 244.94,201.72 245.73,201.99 C246.52,202.26 247.30,202.53 248.09,202.79 C248.88,203.05 249.67,203.30 250.46,203.55 C251.24,203.80 252.03,204.04 252.82,204.28 C253.61,204.51 254.39,204.74 255.18,204.97 C255.97,205.19 256.76,205.41 257.55,205.63 C258.34,205.84 259.12,206.05 259.91,206.26 C260.70,206.46 261.49,206.66 262.28,206.86 C263.07,207.05 263.86,207.24 264.65,207.43 C265.44,207.62 266.23,207.80 267.02,207.98 C267.81,208.16 268.60,208.34 269.40,208.51 C270.19,208.68 270.98,208.85 271.77,209.01 C272.57,209.18 273.36,209.34 274.15,209.50 C274.95,209.66 275.74,209.81 276.54,209.97 C277.33,210.12 278.13,210.27 278.93,210.42 C279.72,210.57 280.52,210.71 281.32,210.86 C282.12,211.00 282.92,211.14 283.72,211.28 C284.52,211.42 285.32,211.56 286.12,211.70 C286.92,211.84 287.73,211.97 288.53,212.11 C289.33,212.24 290.14,212.37 290.94,212.51 C291.75,212.64 292.55,212.77 293.36,212.90 C294.17,213.03 294.97,213.16 295.78,213.29 C296.59,213.42 297.39,213.55 298.20,213.68 C299.01,213.80 299.82,213.93 300.63,214.06 C301.44,214.19 302.24,214.32 303.05,214.45 C303.86,214.57 304.67,214.70 305.48,214.83 C306.29,214.96 307.10,215.09 307.91,215.22 C308.72,215.35 309.53,215.48 310.34,215.62 C311.15,215.75 311.95,215.88 312.76,216.02 C313.57,216.15 314.38,216.29 315.19,216.42 C316.00,216.56 316.81,216.70 317.61,216.84 C318.42,216.98 319.23,217.12 320.03,217.26 C320.84,217.41 321.65,217.55 322.45,217.70 C323.26,217.85 324.06,218.00 324.87,218.15 C325.67,218.31 326.48,218.46 327.28,218.62 C328.08,218.78 328.88,218.94 329.69,219.10 C330.49,219.26 331.29,219.43 332.09,219.60 C332.89,219.77 333.69,219.94 334.48,220.12 C335.28,220.29 336.08,220.47 336.87,220.66 C337.67,220.84 338.46,221.02 339.26,221.22 C340.05,221.41 340.84,221.60 341.63,221.80 C342.42,222.00 343.21,222.20 344.00,222.41 C344.79,222.62 345.57,222.83 346.36,223.04 C347.14,223.26 347.92,223.48 348.71,223.71 C349.49,223.93 350.27,224.16 351.05,224.40 C351.82,224.63 352.60,224.88 353.38,225.12 C354.15,225.37 354.92,225.62 355.69,225.88 C356.47,226.13 357.55,226.15 358.00,226.67 C358.45,227.19 358.33,228.61 358.40,229.00" stroke="#0080ff" stroke-width="1.7" fill="none"/>
<path d="M225.84,166.31 C225.74,166.96 225.43,168.94 225.24,170.25 C225.05,171.57 224.86,172.89 224.69,174.20 C224.52,175.52 224.36,176.84 224.21,178.15 C224.07,179.47 223.93,180.79 223.81,182.10 C223.70,183.42 223.59,184.73 223.51,186.05 C223.43,187.37 223.31,188.70 223.33,190.00 C223.34,191.30 223.48,192.77 223.61,193.87 C223.74,194.98 223.87,195.76 224.09,196.62 C224.32,197.48 224.62,198.28 224.96,199.03 C225.30,199.79 225.71,200.49 226.16,201.15 C226.61,201.81 227.11,202.42 227.64,202.98 C228.18,203.55 228.76,204.08 229.36,204.56 C229.97,205.05 230.61,205.49 231.27,205.91 C231.93,206.32 232.61,206.70 233.31,207.05 C234.02,207.40 234.74,207.71 235.48,208.01 C236.22,208.30 236.97,208.57 237.74,208.82 C238.50,209.07 239.28,209.30 240.06,209.52 C240.85,209.74 241.64,209.93 242.44,210.13 C243.23,210.32 244.03,210.50 244.83,210.68 C245.63,210.86 246.43,211.04 247.23,211.21 C248.02,211.38 248.82,211.55 249.62,211.71 C250.42,211.88 251.22,212.03 252.02,212.19 C252.81,212.35 253.61,212.50 254.41,212.65 C255.21,212.80 256.01,212.95 256.80,213.10 C257.60,213.24 258.40,213.38 259.20,213.52 C260.00,213.66 260.80,213.80 261.59,213.94 C262.39,214.07 263.19,214.21 263.99,214.34 C264.79,214.48 265.59,214.61 266.39,214.74 C267.19,214.87 267.99,215.00 268.79,215.13 C269.59,215.25 270.39,215.38 271.19,215.51 C272.00,215.64 272.80,215.76 273.60,215.89 C274.40,216.02 275.21,216.14 276.01,216.27 C276.81,216.40 277.62,216.53 278.42,216.65 C279.23,216.78 280.03,216.91 280.84,217.04 C281.65,217.16 282.45,217.29 283.26,217.42 C284.07,217.54 284.87,217.67 285.68,217.80 C286.49,217.92 287.30,218.05 288.11,218.17 C288.91,218.30 289.72,218.43 290.53,218.55 C291.34,218.68 292.15,218.80 292.96,218.92 C293.77,219.05 294.58,219.17 295.39,219.29 C296.21,219.42 297.02,219.54 297.83,219.66 C298.64,219.78 299.45,219.90 300.26,220.02 C301.08,220.14 301.89,220.26 302.70,220.38 C303.52,220.50 304.33,220.61 305.14,220.73 C305.96,220.85 306.77,220.96 307.58,221.08 C308.40,221.19 309.21,221.30 310.03,221.41 C310.84,221.53 311.65,221.64 312.47,221.75 C313.28,221.86 314.10,221.96 314.91,222.07 C315.73,222.18 316.54,222.28 317.36,222.38 C318.17,222.49 318.99,222.59 319.80,222.69 C320.62,222.79 321.44,222.89 322.25,222.99 C323.07,223.09 323.88,223.18 324.70,223.28 C325.51,223.37 326.33,223.46 327.14,223.55 C327.96,223.65 328.77,223.74 329.59,223.83 C330.40,223.92 331.22,224.01 332.03,224.11 C332.84,224.21 333.66,224.31 334.47,224.41 C335.28,224.52 336.09,224.62 336.89,224.74 C337.70,224.85 338.51,224.97 339.31,225.10 C340.11,225.22 340.92,225.36 341.72,225.50 C342.52,225.64 343.31,225.80 344.11,225.96 C344.90,226.12 345.69,226.29 346.48,226.48 C347.27,226.67 348.06,226.86 348.84,227.07 C349.62,227.28 350.40,227.51 351.18,227.75 C351.95,227.99 352.72,228.24 353.49,228.51 C354.26,228.79 355.02,229.07 355.78,229.38 C356.54,229.69 357.59,229.92 358.04,230.35 C358.49,230.79 358.42,231.73 358.50,232.00" stroke="#0080ff" stroke-width="1.7" fill="none"/>
<path d="M357.80,217.00 C357.86,218.04 358.03,221.16 358.13,223.23 C358.23,225.31 358.32,227.39 358.39,229.47 C358.47,231.54 358.56,234.66 358.59,235.70" stroke="#0080ff" stroke-width="2.8" fill="none"/>
<circle cx="254.35" cy="74.40" r="3.7" fill="#8000ff"/>
<circle cx="242.73" cy="99.07" r="3.7" fill="#0080ff"/>
<circle cx="236.93" cy="116.24" r="3.7" fill="#8000ff"/>
<circle cx="233.44" cy="128.80" r="3.7" fill="#0080ff"/>
<circle cx="231.12" cy="138.46" r="3.7" fill="#8000ff"/>
<circle cx="229.46" cy="146.17" r="3.7" fill="#0080ff"/>
<circle cx="228.21" cy="152.50" r="3.7" fill="#8000ff"/>
<circle cx="227.24" cy="157.81" r="3.7" fill="#0080ff"/>
<circle cx="226.47" cy="162.36" r="3.7" fill="#8000ff"/>
<circle cx="225.84" cy="166.31" r="3.7" fill="#0080ff"/>
</svg></body></html>
